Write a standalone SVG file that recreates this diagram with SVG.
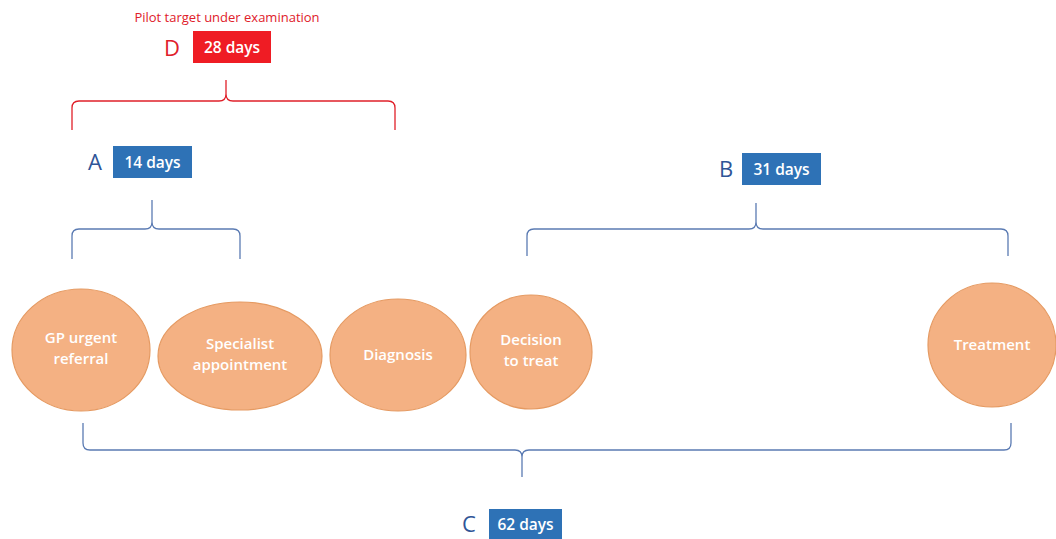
<svg xmlns="http://www.w3.org/2000/svg" width="1056" height="539" viewBox="0 0 1056 539">
<style>
text{font-family:"Open Sans","Liberation Sans",sans-serif}
.node ellipse{fill:#f4b183;stroke:#e59a62;stroke-width:1.2}
.node text{fill:#fff;font-size:15px;font-weight:600;text-anchor:middle}
.brace{fill:none;stroke-width:1.3}
.blue{stroke:#5b7bb3}
.red{stroke:#e0202a}
.box{fill:#2e72b6}
.rbox{fill:#ef1c24}
.lbl{fill:#fff;font-size:15.5px;font-weight:600;text-anchor:middle}
.let{font-size:22px;font-weight:500;text-anchor:middle}
</style>
<rect width="1056" height="539" fill="#fff"/>
<g id="connectors">
<path class="brace red" d="M72,130 L72,108 Q72,101 79,101 L219,101 Q226,101 226,94 L226,80 M226,94 Q226,101 233,101 L388,101 Q395,101 395,108 L395,130"/>
<path class="brace blue" d="M72,259 L72,236 Q72,229 79,229 L145,229 Q152,229 152,222 L152,200 M152,222 Q152,229 159,229 L233,229 Q240,229 240,236 L240,259"/>
<path class="brace blue" d="M527,256 L527,236 Q527,229 534,229 L749,229 Q756,229 756,222 L756,203 M756,222 Q756,229 763,229 L1001,229 Q1008,229 1008,236 L1008,256"/>
<path class="brace blue" d="M83,423 L83,443 Q83,450 90,450 L515,450 Q522,450 522,457 L522,477 M522,457 Q522,450 529,450 L1004,450 Q1011,450 1011,443 L1011,423"/>
</g>
<g id="labelD">
<text x="227" y="22" font-size="13" font-weight="500" fill="#e0202a" text-anchor="middle">Pilot target under examination</text>
<text class="let" x="172" y="56" fill="#e0202a">D</text>
<rect class="rbox" x="193" y="31" width="78" height="32"/>
<text class="lbl" x="232" y="53">28 days</text>
</g>
<g id="labelA">
<text class="let" x="95" y="170" fill="#2f5597">A</text>
<rect class="box" x="113" y="146" width="79" height="32"/>
<text class="lbl" x="152.5" y="168">14 days</text>
</g>
<g id="labelB">
<text class="let" x="726" y="177" fill="#2f5597">B</text>
<rect class="box" x="742" y="153" width="79" height="32"/>
<text class="lbl" x="781.5" y="175">31 days</text>
</g>
<g id="labelC">
<text class="let" x="469" y="532" fill="#2f5597">C</text>
<rect class="box" x="489" y="509" width="73" height="30"/>
<text class="lbl" x="525.5" y="530">62 days</text>
</g>
<g id="gp" class="node">
<ellipse cx="81" cy="350" rx="69" ry="61"/>
<text x="81" y="343">GP urgent</text>
<text x="81" y="364">referral</text>
</g>
<g id="specialist" class="node">
<ellipse cx="240" cy="356" rx="82" ry="54"/>
<text x="240" y="349">Specialist</text>
<text x="240" y="370">appointment</text>
</g>
<g id="diagnosis" class="node">
<ellipse cx="398" cy="355" rx="68" ry="56"/>
<text x="398" y="360">Diagnosis</text>
</g>
<g id="decision" class="node">
<ellipse cx="531" cy="352" rx="61" ry="57"/>
<text x="531" y="345">Decision</text>
<text x="531" y="366">to treat</text>
</g>
<g id="treatment" class="node">
<ellipse cx="992" cy="345" rx="64" ry="62"/>
<text x="992" y="350">Treatment</text>
</g>
</svg>
